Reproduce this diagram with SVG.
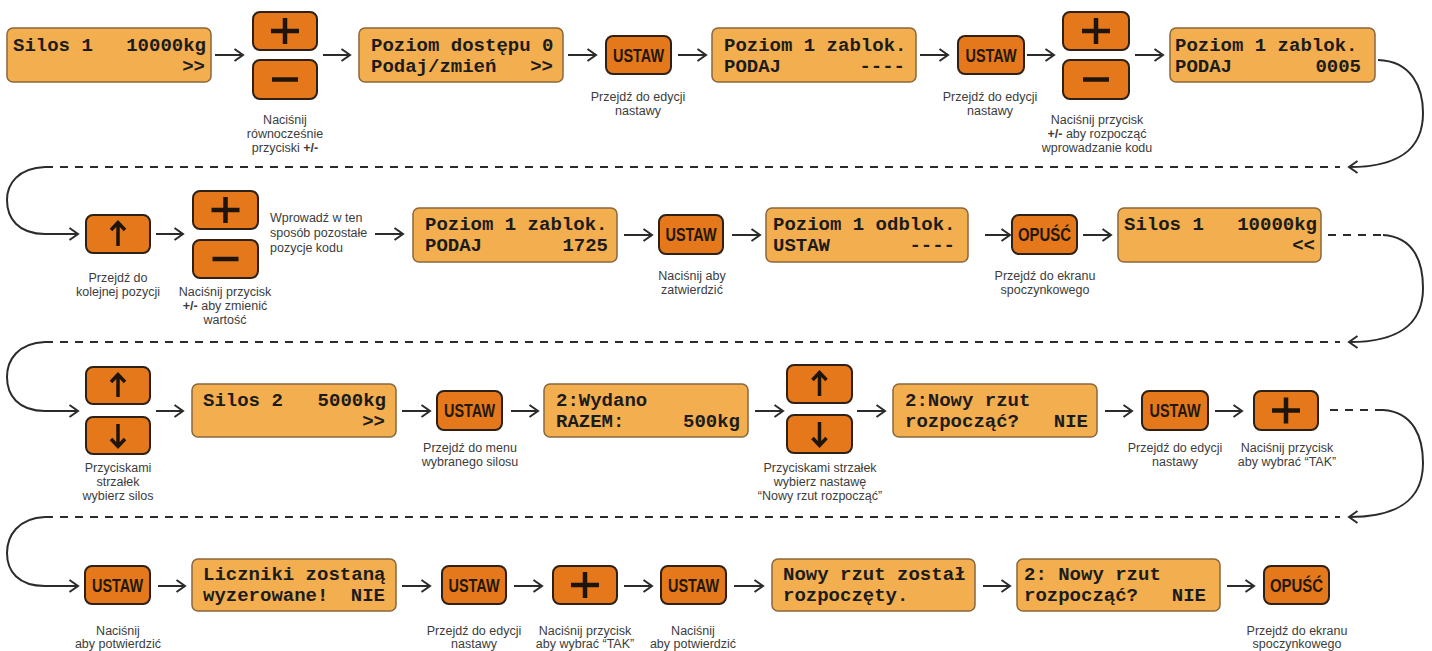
<svg xmlns="http://www.w3.org/2000/svg" width="1432" height="651" viewBox="0 0 1432 651">
<defs>
<marker id="ah" markerUnits="userSpaceOnUse" viewBox="0 0 12 14" markerWidth="12" markerHeight="14" refX="10" refY="7" orient="auto">
<path d="M1.5,1 L10,7 L1.5,13" fill="none" stroke="#2b2b2b" stroke-width="2"/>
</marker>
<style>
.disp{fill:#F3AE4F;stroke:#8a673a;stroke-width:1.5}
.btn{fill:#E5781A;stroke:#2e2014;stroke-width:2}
.lcd{font-family:"Liberation Mono","Courier New",monospace;font-weight:bold;font-size:19px;fill:#1c1c1c}
.lcdE{font-family:"Liberation Mono","Courier New",monospace;font-weight:bold;font-size:19px;fill:#1c1c1c;text-anchor:end}
.bt{font-family:"Liberation Sans",Arial,sans-serif;font-weight:bold;font-size:18px;fill:#24180c;text-anchor:middle}
.cap{font-family:"Liberation Sans",Arial,sans-serif;font-size:12.5px;fill:#3c3c3c;text-anchor:middle}
.capL{font-family:"Liberation Sans",Arial,sans-serif;font-size:12.5px;fill:#3c3c3c}
.gl{fill:none;stroke:#1e1409;stroke-width:4.5}
.ga{fill:none;stroke:#1e1409;stroke-width:3.5}
.con{fill:none;stroke:#2b2b2b;stroke-width:2;marker-end:url(#ah)}
.dash{fill:none;stroke:#2b2b2b;stroke-width:2;stroke-dasharray:8 7}
b{font-weight:bold}
</style>
</defs>

<g id="connectors">
<line class="con" x1="215" y1="55" x2="243" y2="55"/>
<line class="con" x1="323" y1="55" x2="350" y2="55"/>
<line class="con" x1="568" y1="55" x2="596" y2="55"/>
<line class="con" x1="678" y1="55" x2="706" y2="55"/>
<line class="con" x1="920" y1="55" x2="948" y2="55"/>
<line class="con" x1="1027" y1="55" x2="1054" y2="55"/>
<line class="con" x1="1135" y1="55" x2="1163" y2="55"/>
<path class="con" d="M1378,60 C1412,61 1423,88 1423,113 C1423,142 1408,167 1349,167"/>
<line class="dash" x1="45" y1="167" x2="1340" y2="167"/>
<path class="con" d="M45,167 C18,168 7,184 7,200 C7,218 18,234 45,234 L78,234"/>

<line class="con" x1="156" y1="234" x2="183" y2="234"/>
<line class="con" x1="375" y1="234" x2="403" y2="234"/>
<line class="con" x1="624" y1="235" x2="652" y2="235"/>
<line class="con" x1="732" y1="235" x2="760" y2="235"/>
<line class="con" x1="985" y1="235" x2="1010" y2="235"/>
<line class="con" x1="1083" y1="235" x2="1111" y2="235"/>
<line class="dash" x1="1328" y1="235" x2="1383" y2="235"/>
<path class="con" d="M1383,235 C1414,237 1423,262 1423,288 C1423,317 1408,342 1349,342"/>
<line class="dash" x1="45" y1="342" x2="1340" y2="342"/>
<path class="con" d="M45,342 C18,343 7,360 7,377 C7,395 18,411 45,411 L78,411"/>

<line class="con" x1="156" y1="411" x2="183" y2="411"/>
<line class="con" x1="402" y1="411" x2="430" y2="411"/>
<line class="con" x1="511" y1="411" x2="538" y2="411"/>
<line class="con" x1="755" y1="411" x2="783" y2="411"/>
<line class="con" x1="857" y1="411" x2="885" y2="411"/>
<line class="con" x1="1105" y1="411" x2="1132" y2="411"/>
<line class="con" x1="1215" y1="411" x2="1242" y2="411"/>
<line class="dash" x1="1330" y1="410" x2="1383" y2="410"/>
<path class="con" d="M1383,410 C1414,412 1423,438 1423,463 C1423,492 1408,517 1349,517"/>
<line class="dash" x1="45" y1="517" x2="1340" y2="517"/>
<path class="con" d="M45,517 C18,518 7,536 7,553 C7,571 18,586 45,586 L78,586"/>

<line class="con" x1="158" y1="586" x2="185" y2="586"/>
<line class="con" x1="402" y1="586" x2="430" y2="586"/>
<line class="con" x1="514" y1="586" x2="542" y2="586"/>
<line class="con" x1="624" y1="586" x2="652" y2="586"/>
<line class="con" x1="734" y1="586" x2="763" y2="586"/>
<line class="con" x1="983" y1="586" x2="1010" y2="586"/>
<line class="con" x1="1227" y1="586" x2="1254" y2="586"/>
</g>

<!-- Row 1 -->
<g id="d1">
<rect class="disp" x="7" y="28" width="204" height="54" rx="6"/>
<text class="lcd" x="13" y="51">Silos 1</text>
<text class="lcdE" x="206" y="51">10000kg</text>
<text class="lcdE" x="205" y="72">&gt;&gt;</text>
</g>
<g id="pm1">
<rect class="btn" x="253" y="12" width="64" height="38" rx="7"/>
<path class="gl" d="M271,31 H299 M285,18 V44"/>
<rect class="btn" x="253" y="60" width="64" height="39" rx="7"/>
<path class="gl" d="M272,79.5 H298"/>
<text class="cap" x="285" y="124">Naciśnij</text>
<text class="cap" x="285" y="138">równocześnie</text>
<text class="cap" x="285" y="152">przyciski <tspan font-weight="bold">+/-</tspan></text>
</g>
<g id="d2">
<rect class="disp" x="359" y="28" width="204" height="54" rx="6"/>
<text class="lcd" x="371" y="51">Poziom dostępu 0</text>
<text class="lcd" x="371" y="72">Podaj/zmień</text>
<text class="lcdE" x="553" y="72">&gt;&gt;</text>
</g>
<g id="u1">
<rect class="btn" x="606" y="36" width="65" height="38" rx="7"/>
<text class="bt" x="638.5" y="61.5" textLength="51" lengthAdjust="spacingAndGlyphs">USTAW</text>
<text class="cap" x="638" y="101">Przejdź do edycji</text>
<text class="cap" x="638" y="115">nastawy</text>
</g>
<g id="d3">
<rect class="disp" x="712" y="28" width="204" height="54" rx="6"/>
<text class="lcd" x="724" y="51">Poziom 1 zablok.</text>
<text class="lcd" x="724" y="72">PODAJ</text>
<text class="lcdE" x="905" y="72">----</text>
</g>
<g id="u2">
<rect class="btn" x="958" y="36" width="66" height="38" rx="7"/>
<text class="bt" x="991" y="61.5" textLength="51" lengthAdjust="spacingAndGlyphs">USTAW</text>
<text class="cap" x="990" y="101">Przejdź do edycji</text>
<text class="cap" x="990" y="115">nastawy</text>
</g>
<g id="pm2">
<rect class="btn" x="1063" y="12" width="66" height="38" rx="7"/>
<path class="gl" d="M1082,31 H1110 M1096,18 V44"/>
<rect class="btn" x="1063" y="60" width="66" height="39" rx="7"/>
<path class="gl" d="M1083,79.5 H1109"/>
<text class="cap" x="1097" y="124">Naciśnij przycisk</text>
<text class="cap" x="1097" y="138"><tspan font-weight="bold">+/-</tspan> aby rozpocząć</text>
<text class="cap" x="1097" y="152">wprowadzanie kodu</text>
</g>
<g id="d4">
<rect class="disp" x="1170" y="28" width="205" height="54" rx="6"/>
<text class="lcd" x="1175" y="51">Poziom 1 zablok.</text>
<text class="lcd" x="1175" y="72">PODAJ</text>
<text class="lcdE" x="1361" y="72">0005</text>
</g>

<!-- Row 2 -->
<g id="up1">
<rect class="btn" x="86" y="215" width="64" height="38" rx="7"/>
<path class="ga" d="M118,246 V223 M111,230 L118,222.5 L125,230"/>
<text class="cap" x="118" y="282">Przejdź do</text>
<text class="cap" x="118" y="296">kolejnej pozycji</text>
</g>
<g id="pm3">
<rect class="btn" x="193" y="191" width="65" height="38" rx="7"/>
<path class="gl" d="M211.5,210 H239.5 M225.5,197 V223"/>
<rect class="btn" x="193" y="240" width="65" height="38" rx="7"/>
<path class="gl" d="M212.5,259 H238.5"/>
<text class="cap" x="225" y="296">Naciśnij przycisk</text>
<text class="cap" x="225" y="310"><tspan font-weight="bold">+/-</tspan> aby zmienić</text>
<text class="cap" x="225" y="324">wartość</text>
</g>
<g id="note1">
<text class="capL" x="270" y="222">Wprowadź w ten</text>
<text class="capL" x="270" y="237">sposób pozostałe</text>
<text class="capL" x="270" y="252">pozycje kodu</text>
</g>
<g id="d5">
<rect class="disp" x="413" y="208" width="204" height="54" rx="6"/>
<text class="lcd" x="425" y="230">Poziom 1 zablok.</text>
<text class="lcd" x="425" y="251">PODAJ</text>
<text class="lcdE" x="608" y="251">1725</text>
</g>
<g id="u3">
<rect class="btn" x="659" y="215" width="64" height="39" rx="7"/>
<text class="bt" x="691" y="241" textLength="51" lengthAdjust="spacingAndGlyphs">USTAW</text>
<text class="cap" x="692" y="280">Naciśnij aby</text>
<text class="cap" x="692" y="294">zatwierdzić</text>
</g>
<g id="d6">
<rect class="disp" x="766" y="208" width="202" height="54" rx="6"/>
<text class="lcd" x="773" y="230">Poziom 1 odblok.</text>
<text class="lcd" x="773" y="251">USTAW</text>
<text class="lcdE" x="955" y="251">----</text>
</g>
<g id="o1">
<rect class="btn" x="1012" y="215" width="65" height="39" rx="7"/>
<text class="bt" x="1044.5" y="241" textLength="53" lengthAdjust="spacingAndGlyphs">OPUŚĆ</text>
<text class="cap" x="1045" y="280">Przejdź do ekranu</text>
<text class="cap" x="1045" y="294">spoczynkowego</text>
</g>
<g id="d7">
<rect class="disp" x="1118" y="208" width="203" height="54" rx="6"/>
<text class="lcd" x="1124" y="230">Silos 1</text>
<text class="lcdE" x="1317" y="230">10000kg</text>
<text class="lcdE" x="1315" y="251">&lt;&lt;</text>
</g>

<!-- Row 3 -->
<g id="ud1">
<rect class="btn" x="86" y="367" width="64" height="37" rx="7"/>
<path class="ga" d="M118,397 V375 M111,382 L118,374.5 L125,382"/>
<rect class="btn" x="86" y="417" width="64" height="37" rx="7"/>
<path class="ga" d="M118,424 V446 M111,439 L118,446.5 L125,439"/>
<text class="cap" x="118" y="472">Przyciskami</text>
<text class="cap" x="118" y="486">strzałek</text>
<text class="cap" x="118" y="500">wybierz silos</text>
</g>
<g id="d8">
<rect class="disp" x="192" y="384" width="204" height="53" rx="6"/>
<text class="lcd" x="203" y="406">Silos 2</text>
<text class="lcdE" x="386" y="406">5000kg</text>
<text class="lcdE" x="385" y="427">&gt;&gt;</text>
</g>
<g id="u4">
<rect class="btn" x="437" y="391" width="65" height="39" rx="7"/>
<text class="bt" x="469.5" y="417" textLength="51" lengthAdjust="spacingAndGlyphs">USTAW</text>
<text class="cap" x="470" y="452">Przejdź do menu</text>
<text class="cap" x="470" y="466">wybranego silosu</text>
</g>
<g id="d9">
<rect class="disp" x="544" y="384" width="204" height="53" rx="6"/>
<text class="lcd" x="556" y="406">2:Wydano</text>
<text class="lcd" x="556" y="427">RAZEM:</text>
<text class="lcdE" x="740" y="427">500kg</text>
</g>
<g id="ud2">
<rect class="btn" x="787" y="365" width="65" height="38" rx="7"/>
<path class="ga" d="M819.5,396 V373 M812.5,380 L819.5,372.5 L826.5,380"/>
<rect class="btn" x="787" y="415" width="65" height="38" rx="7"/>
<path class="ga" d="M819.5,422 V445 M812.5,438 L819.5,445.5 L826.5,438"/>
<text class="cap" x="820" y="472">Przyciskami strzałek</text>
<text class="cap" x="820" y="486">wybierz nastawę</text>
<text class="cap" x="820" y="500">“Nowy rzut rozpocząć”</text>
</g>
<g id="d10">
<rect class="disp" x="893" y="384" width="204" height="53" rx="6"/>
<text class="lcd" x="905" y="406">2:Nowy rzut</text>
<text class="lcd" x="905" y="427">rozpocząć?</text>
<text class="lcdE" x="1088" y="427">NIE</text>
</g>
<g id="u5">
<rect class="btn" x="1142" y="391" width="66" height="39" rx="7"/>
<text class="bt" x="1175" y="417" textLength="51" lengthAdjust="spacingAndGlyphs">USTAW</text>
<text class="cap" x="1175" y="452">Przejdź do edycji</text>
<text class="cap" x="1175" y="466">nastawy</text>
</g>
<g id="p1">
<rect class="btn" x="1254" y="391" width="64" height="39" rx="7"/>
<path class="gl" d="M1272,410.5 H1300 M1286,397.5 V423.5"/>
<text class="cap" x="1287" y="452">Naciśnij przycisk</text>
<text class="cap" x="1287" y="466">aby wybrać “TAK”</text>
</g>

<!-- Row 4 -->
<g id="u6">
<rect class="btn" x="85" y="566" width="65" height="38" rx="7"/>
<text class="bt" x="117.5" y="591.5" textLength="51" lengthAdjust="spacingAndGlyphs">USTAW</text>
<text class="cap" x="118" y="635">Naciśnij</text>
<text class="cap" x="118" y="648">aby potwierdzić</text>
</g>
<g id="d11">
<rect class="disp" x="192" y="559" width="204" height="52" rx="6"/>
<text class="lcd" x="203" y="580">Liczniki zostaną</text>
<text class="lcd" x="203" y="601">wyzerowane!</text>
<text class="lcdE" x="385" y="601">NIE</text>
</g>
<g id="u7">
<rect class="btn" x="442" y="566" width="64" height="38" rx="7"/>
<text class="bt" x="474" y="591.5" textLength="51" lengthAdjust="spacingAndGlyphs">USTAW</text>
<text class="cap" x="474" y="635">Przejdź do edycji</text>
<text class="cap" x="474" y="648">nastawy</text>
</g>
<g id="p2">
<rect class="btn" x="553" y="566" width="64" height="38" rx="7"/>
<path class="gl" d="M571,585 H599 M585,572 V598"/>
<text class="cap" x="585" y="635">Naciśnij przycisk</text>
<text class="cap" x="585" y="648">aby wybrać “TAK”</text>
</g>
<g id="u8">
<rect class="btn" x="661" y="566" width="65" height="38" rx="7"/>
<text class="bt" x="693.5" y="591.5" textLength="51" lengthAdjust="spacingAndGlyphs">USTAW</text>
<text class="cap" x="693" y="635">Naciśnij</text>
<text class="cap" x="693" y="648">aby potwierdzić</text>
</g>
<g id="d12">
<rect class="disp" x="772" y="559" width="203" height="52" rx="6"/>
<text class="lcd" x="783" y="580">Nowy rzut został</text>
<text class="lcd" x="783" y="601">rozpoczęty.</text>
</g>
<g id="d13">
<rect class="disp" x="1017" y="559" width="203" height="52" rx="6"/>
<text class="lcd" x="1024" y="580">2: Nowy rzut</text>
<text class="lcd" x="1024" y="601">rozpocząć?</text>
<text class="lcdE" x="1206" y="601">NIE</text>
</g>
<g id="o2">
<rect class="btn" x="1264" y="566" width="65" height="38" rx="7"/>
<text class="bt" x="1296.5" y="591.5" textLength="53" lengthAdjust="spacingAndGlyphs">OPUŚĆ</text>
<text class="cap" x="1297" y="635">Przejdź do ekranu</text>
<text class="cap" x="1297" y="648">spoczynkowego</text>
</g>
</svg>
